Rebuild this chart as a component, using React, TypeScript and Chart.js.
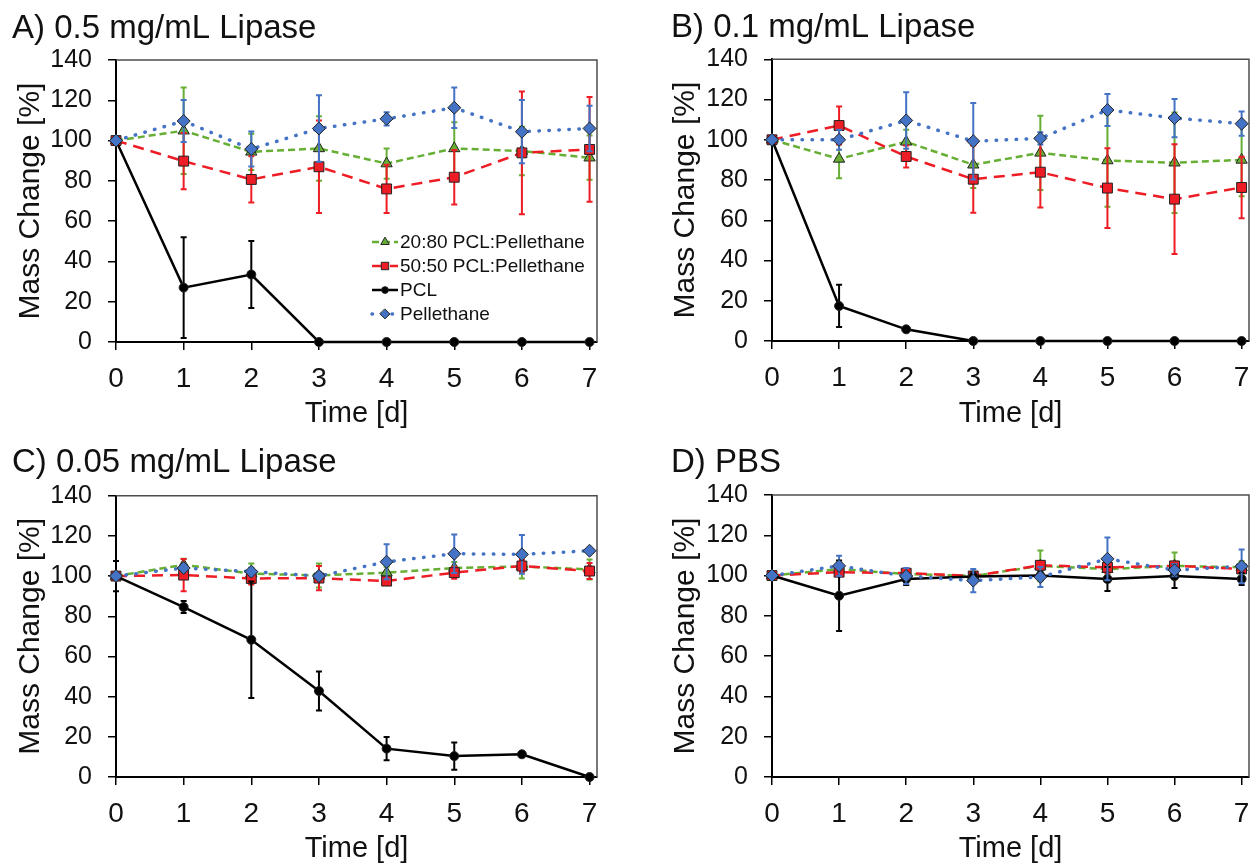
import React, { useEffect, useRef } from 'react';
import { Chart, registerables } from 'chart.js';

Chart.register(...registerables);

// ---------- data ----------
const days = [0, 1, 2, 3, 4, 5, 6, 7];
const xTickValues = [0, 1, 2, 3, 4, 5, 6, 7];
const yMin = 0;
const yMax = 140;
const yStep = 20;

const seriesNames = ['20:80 PCL:Pellethane', '50:50 PCL:Pellethane', 'PCL', 'Pellethane'];
const panelTitles = ['A) 0.5 mg/mL Lipase', 'B) 0.1 mg/mL Lipase', 'C) 0.05 mg/mL Lipase', 'D) PBS'];
const xAxisTitle = 'Time [d]';
const yAxisTitle = 'Mass Change [%]';

// Panel A – 0.5 mg/mL lipase
const a2080 = [100, 104.9, 94.4, 96.1, 88.6, 96.1, 94.8, 91.5];
const a2080Err = [0, 21.5, 9, 16, 7.5, 13, 12, 11];
const a5050 = [100, 89.8, 80.7, 87, 76, 81.8, 93.9, 95.6];
const a5050Err = [0, 14, 11.5, 23, 12, 13.5, 30.5, 26];
const aPCL = [100, 27, 33.5, 0, 0, 0, 0, 0];
const aPCLErr = [0, 25, 16.6, 0, 0, 0, 0, 0];
const aPell = [100, 109.7, 95.8, 106, 110.8, 116.3, 104.4, 106];
const aPellErr = [0, 10.4, 8.7, 16.5, 3.3, 10, 15.7, 11.3];

// Panel B – 0.1 mg/mL lipase
const b2080 = [100, 90.5, 99, 87.6, 93.5, 89.7, 88.6, 90];
const b2080Err = [0, 9.6, 6, 11.6, 18.5, 23, 25, 18];
const b5050 = [100, 107.1, 91.7, 80.4, 83.9, 76, 70.5, 76.3];
const b5050Err = [0, 9.5, 5.5, 16.7, 17.6, 19.8, 27.3, 15.3];
const bPCL = [100, 17.4, 5.8, 0, 0, 0, 0, 0];
const bPCLErr = [0, 10.5, 0.8, 0, 0, 0, 0, 0];
const bPell = [100, 100, 109.6, 99.3, 100.7, 114.8, 110.8, 108];
const bPellErr = [0, 5, 14, 19, 3, 8, 9.5, 6];

// Panel C – 0.05 mg/mL lipase
const c2080 = [100, 105.6, 101.2, 100.3, 101.7, 104, 104.8, 103.3];
const c2080Err = [0, 3, 5, 6, 3, 3, 6, 5];
const c5050 = [100, 100.5, 98.8, 99, 97.5, 101.7, 105, 102.5];
const c5050Err = [0, 8, 3, 6, 2, 3, 3, 4];
const cPCL = [100, 84.6, 68.3, 42.8, 14.1, 10.4, 11.3, 0];
const cPCLErr = [7.5, 3, 29, 9.7, 5.8, 6.8, 0.6, 0];
const cPell = [100, 104, 102.2, 100, 107.1, 111.1, 110.8, 112.6];
const cPellErr = [0, 2, 2, 2, 8.7, 9.6, 9.6, 0];

// Panel D – PBS
const d2080 = [100, 103.2, 100.8, 99.8, 104.8, 103.2, 104.8, 104.1];
const d2080Err = [0, 3, 2, 2, 7.6, 3, 6.6, 3];
const d5050 = [100, 101.7, 101.2, 99.8, 105.1, 104.1, 104.8, 103.3];
const d5050Err = [0, 2, 2, 2, 2, 3, 2, 2];
const dPCL = [100, 90, 98.3, 99.5, 100, 98.3, 99.8, 98.3];
const dPCLErr = [0, 17.5, 3, 2, 2, 6, 6, 3];
const dPell = [100, 104.8, 99.8, 97.5, 99.3, 108.3, 102.7, 104.6];
const dPellErr = [0, 5, 4, 5.8, 5, 10.6, 3, 8.4];

// ---------- styles ----------
const FONT = "'Liberation Sans', Arial, Helvetica, sans-serif";
const TEXT = '#111111';

const seriesStyles = [
  { color: '#66AF34', dash: [7, 4], width: 2.5, cap: 'butt', point: 'triangle', radius: 6.5, order: 3 },
  { color: '#EE1C24', dash: [11, 7], width: 2.5, cap: 'butt', point: 'rect', radius: 7, order: 2 },
  { color: '#000000', dash: [], width: 2.5, cap: 'butt', point: 'circle', radius: 4.5, order: 1 },
  { color: '#4472C4', dash: [0.5, 9.5], width: 3.5, cap: 'round', point: 'rectRot', radius: 6.5, order: 0 },
];

type Layout = {
  left: number; top: number; w: number; h: number;
  padL: number; padR: number; yW: number; yTitlePad: number;
  xH: number; xTitlePadB: number; titlePadT: number; titlePadB: number;
};

const layouts: Layout[] = [
  { left: 0, top: 0, w: 628, h: 434, padL: 12, padR: 31, yW: 104, yTitlePad: 4, xH: 92, xTitlePadB: 3, titlePadT: 9, titlePadB: 11.4 },
  { left: 628, top: 0, w: 629, h: 434, padL: 43, padR: 5, yW: 101, yTitlePad: 0, xH: 93, xTitlePadB: 3, titlePadT: 8.5, titlePadB: 11.2 },
  { left: 0, top: 435, w: 628, h: 433, padL: 12, padR: 31, yW: 104, yTitlePad: 4, xH: 91, xTitlePadB: 2, titlePadT: 8.3, titlePadB: 12.8 },
  { left: 628, top: 435, w: 629, h: 433, padL: 43, padR: 5, yW: 101, yTitlePad: 0, xH: 91, xTitlePadB: 2, titlePadT: 8.3, titlePadB: 12.1 },
];

// ---------- helpers ----------
function drawMarker(ctx: CanvasRenderingContext2D, kind: string, x: number, y: number, r: number, fill: string) {
  ctx.beginPath();
  if (kind === 'triangle') {
    ctx.moveTo(x, y - r);
    ctx.lineTo(x - r * 0.866, y + r * 0.5);
    ctx.lineTo(x + r * 0.866, y + r * 0.5);
    ctx.closePath();
  } else if (kind === 'rect') {
    const s = r * Math.SQRT1_2;
    ctx.rect(x - s, y - s, 2 * s, 2 * s);
  } else if (kind === 'rectRot') {
    ctx.moveTo(x, y - r);
    ctx.lineTo(x + r, y);
    ctx.lineTo(x, y + r);
    ctx.lineTo(x - r, y);
    ctx.closePath();
  } else {
    ctx.arc(x, y, r, 0, Math.PI * 2);
  }
  ctx.fillStyle = fill;
  ctx.fill();
  ctx.lineWidth = 1;
  ctx.strokeStyle = '#222222';
  ctx.setLineDash([]);
  ctx.stroke();
}

const errorBarPlugin = {
  id: 'errorBars',
  beforeDatasetDraw(chart: any, args: any) {
    const ds = chart.data.datasets[args.index];
    const errs: number[] | undefined = ds.errors;
    if (!errs) return;
    const ys = chart.scales.y;
    const ctx: CanvasRenderingContext2D = chart.ctx;
    ctx.save();
    ctx.strokeStyle = ds.errorColor;
    ctx.lineWidth = 2;
    ctx.setLineDash([]);
    args.meta.data.forEach((pt: any, i: number) => {
      const e = errs[i];
      if (!e) return;
      const v = ds.data[i].y;
      const yt = ys.getPixelForValue(v + e);
      const yb = ys.getPixelForValue(v - e);
      const x = pt.x;
      ctx.beginPath();
      ctx.moveTo(x, yt);
      ctx.lineTo(x, yb);
      ctx.moveTo(x - 3, yt);
      ctx.lineTo(x + 3, yt);
      ctx.moveTo(x - 3, yb);
      ctx.lineTo(x + 3, yb);
      ctx.stroke();
    });
    ctx.restore();
  },
};

const framePlugin = {
  id: 'frame',
  beforeDatasetsDraw(chart: any) {
    const { ctx, chartArea } = chart;
    const { left, top, right, bottom } = chartArea;
    ctx.save();
    ctx.strokeStyle = '#4d4d4d';
    ctx.lineWidth = 1.5;
    ctx.beginPath();
    ctx.moveTo(left, top);
    ctx.lineTo(right, top);
    ctx.lineTo(right, bottom);
    ctx.stroke();
    ctx.restore();
  },
};

const insideLegendPlugin = {
  id: 'insideLegend',
  afterDatasetsDraw(chart: any, _args: any, opts: any) {
    if (!opts || !opts.show) return;
    const ctx: CanvasRenderingContext2D = chart.ctx;
    const { right, bottom } = chart.chartArea;
    const x0 = right - opts.dx;
    let y = bottom - opts.dy;
    ctx.save();
    chart.data.datasets.forEach((ds: any) => {
      ctx.beginPath();
      ctx.setLineDash(ds.borderDash || []);
      ctx.lineCap = ds.borderCapStyle || 'butt';
      ctx.strokeStyle = ds.borderColor;
      ctx.lineWidth = ds.borderWidth;
      ctx.moveTo(x0, y);
      ctx.lineTo(x0 + 26, y);
      ctx.stroke();
      ctx.setLineDash([]);
      drawMarker(ctx, ds.pointStyle, x0 + 13, y, ds.pointRadius * 0.75, ds.pointBackgroundColor);
      ctx.fillStyle = TEXT;
      ctx.font = `19px ${FONT}`;
      ctx.textBaseline = 'middle';
      ctx.textAlign = 'left';
      ctx.fillText(ds.label, x0 + 28, y + 1);
      y += opts.row;
    });
    ctx.restore();
  },
};

// ---------- panel ----------
type PanelProps = {
  title: string;
  values: number[][];
  errors: number[][];
  layout: Layout;
  legend: boolean;
};

function Panel({ title, values, errors, layout, legend }: PanelProps) {
  const ref = useRef<HTMLCanvasElement>(null);

  useEffect(() => {
    if (!ref.current) return;
    const datasets = values.map((vals, si) => {
      const st = seriesStyles[si];
      return {
        label: seriesNames[si],
        data: days.map((d, i) => ({ x: d, y: vals[i] })),
        errors: errors[si],
        errorColor: st.color,
        borderColor: st.color,
        borderWidth: st.width,
        borderDash: st.dash,
        borderCapStyle: st.cap,
        pointStyle: st.point,
        pointRadius: st.radius,
        pointBackgroundColor: st.color,
        pointBorderColor: '#222222',
        pointBorderWidth: 1,
        pointHoverRadius: st.radius,
        tension: 0,
        fill: false,
        clip: false,
        order: st.order,
      };
    });

    const chart = new Chart(ref.current, {
      type: 'line',
      data: { datasets } as any,
      plugins: [errorBarPlugin, framePlugin, insideLegendPlugin],
      options: {
        animation: false,
        responsive: false,
        maintainAspectRatio: false,
        events: [],
        layout: { padding: { left: layout.padL, right: layout.padR, top: 0, bottom: 0 } },
        plugins: {
          legend: { display: false },
          tooltip: { enabled: false },
          title: {
            display: true,
            text: title,
            align: 'start',
            color: TEXT,
            font: { family: FONT, size: 33, weight: 'normal', lineHeight: 1.2 },
            padding: { top: layout.titlePadT, bottom: layout.titlePadB },
          },
          insideLegend: { show: legend, dx: 225, dy: 100, row: 24 },
        } as any,
        scales: {
          x: {
            type: 'linear',
            min: 0,
            max: 7.11,
            afterBuildTicks: (s: any) => {
              s.ticks = xTickValues.map((v) => ({ value: v }));
            },
            afterFit: (s: any) => {
              s.height = layout.xH;
              s.paddingLeft = 0;
              s.paddingRight = 0;
            },
            ticks: {
              autoSkip: false,
              maxRotation: 0,
              padding: 12,
              color: TEXT,
              font: { family: FONT, size: 28 },
            },
            grid: { drawOnChartArea: false, drawTicks: true, tickLength: 8, color: '#000000', lineWidth: 1.5 },
            border: { display: true, color: '#000000', width: 2 },
            title: {
              display: true,
              text: xAxisTitle,
              color: TEXT,
              font: { family: FONT, size: 29, lineHeight: 1.2 },
              padding: { top: 0, bottom: layout.xTitlePadB },
            },
          },
          y: {
            type: 'linear',
            min: yMin,
            max: yMax,
            afterFit: (s: any) => {
              s.width = layout.yW;
              s.paddingTop = 0;
              s.paddingBottom = 0;
            },
            ticks: {
              stepSize: yStep,
              padding: 16,
              color: TEXT,
              font: { family: FONT, size: 25 },
            },
            grid: { drawOnChartArea: false, drawTicks: true, tickLength: 8, color: '#000000', lineWidth: 1.5 },
            border: { display: true, color: '#000000', width: 2 },
            title: {
              display: true,
              text: yAxisTitle,
              color: TEXT,
              font: { family: FONT, size: 30, lineHeight: 1 },
              padding: { top: layout.yTitlePad, bottom: 0 },
            },
          },
        },
      } as any,
    });
    return () => chart.destroy();
  }, []);

  return (
    <div style={{ position: 'absolute', left: layout.left, top: layout.top, width: layout.w, height: layout.h }}>
      <canvas ref={ref} width={layout.w} height={layout.h} style={{ display: 'block' }} />
    </div>
  );
}

export default function App() {
  const panels = [
    { values: [a2080, a5050, aPCL, aPell], errors: [a2080Err, a5050Err, aPCLErr, aPellErr] },
    { values: [b2080, b5050, bPCL, bPell], errors: [b2080Err, b5050Err, bPCLErr, bPellErr] },
    { values: [c2080, c5050, cPCL, cPell], errors: [c2080Err, c5050Err, cPCLErr, cPellErr] },
    { values: [d2080, d5050, dPCL, dPell], errors: [d2080Err, d5050Err, dPCLErr, dPellErr] },
  ];
  return (
    <div style={{ position: 'fixed', left: 0, top: 0, width: 1257, height: 868, background: '#ffffff', overflow: 'hidden' }}>
      {panels.map((p, i) => (
        <Panel key={i} title={panelTitles[i]} values={p.values} errors={p.errors} layout={layouts[i]} legend={i === 0} />
      ))}
    </div>
  );
}
